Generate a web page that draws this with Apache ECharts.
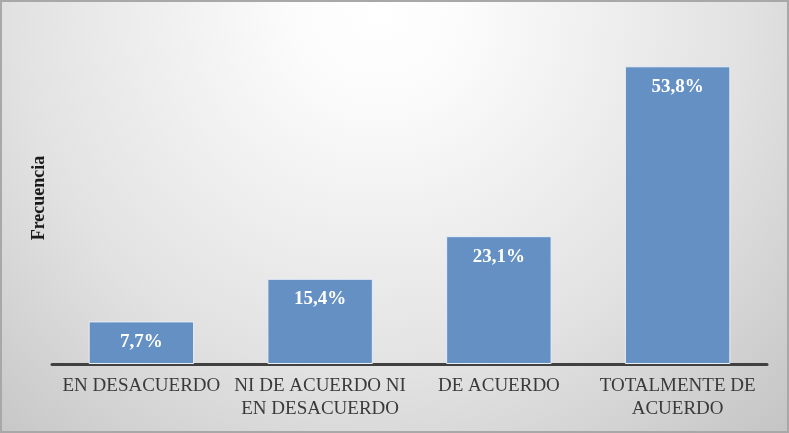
<!DOCTYPE html>
<html>
<head>
<meta charset="utf-8">
<script src="https://cdn.jsdelivr.net/npm/echarts@6/dist/echarts.min.js"></script>
<style>
  html, body { margin: 0; padding: 0; }
  #chart { width: 789px; height: 433px; }
</style>
</head>
<body>
<div id="chart"></div>
<script>
var categories = ['EN DESACUERDO', 'NI DE ACUERDO NI\nEN DESACUERDO', 'DE ACUERDO', 'TOTALMENTE DE\nACUERDO'];
var values = [7.7, 15.4, 23.1, 53.8];

var chart = echarts.init(document.getElementById('chart'));
var serif = '"Liberation Serif", "DejaVu Serif", serif';

var option = {
    backgroundColor: {
        type: 'radial',
        x: 0.48, y: 0.02, r: 1.4,
        colorStops: [
            { offset: 0, color: '#ffffff' },
            { offset: 0.15, color: '#fbfbfb' },
            { offset: 0.6, color: '#e2e2e2' },
            { offset: 1, color: '#c2c2c2' }
        ]
    },
    graphic: [{
        type: 'rect',
        shape: { x: 1, y: 1, width: 787, height: 431 },
        style: { fill: 'none', stroke: '#a8a8a8', lineWidth: 2 }
    }],
    grid: {
        left: 52,
        right: 22,
        top: 32,
        bottom: 69
    },
    xAxis: {
        type: 'category',
        data: categories,
        axisTick: { show: false },
        axisLine: { lineStyle: { color: '#404040', width: 3 } },
        axisLabel: {
            color: '#3a3a3a',
            fontFamily: serif,
            fontSize: 19,
            lineHeight: 23,
            margin: 11,
            interval: 0
        }
    },
    yAxis: {
        type: 'value',
        min: 0,
        max: 60,
        name: 'Frecuencia',
        nameLocation: 'middle',
        nameGap: 4,
        nameRotate: 90,
        nameTextStyle: {
            color: '#1a1a1a',
            fontFamily: serif,
            fontSize: 18,
            fontWeight: 'bold'
        },
        axisLine: { show: false },
        axisTick: { show: false },
        axisLabel: { show: false },
        splitLine: { show: false }
    },
    series: [{
        type: 'bar',
        data: values,
        barWidth: '59%',
        itemStyle: {
            color: '#6590c4',
            borderColor: '#e8eef6',
            borderWidth: 1
        },
        label: {
            show: true,
            position: 'insideTop',
            distance: 11,
            color: '#ffffff',
            fontFamily: serif,
            fontSize: 19,
            fontWeight: 'bold',
            formatter: function(p) {
                return p.value.toFixed(1).replace('.', ',') + '%';
            }
        }
    }]
};

chart.setOption(option);
</script>
</body>
</html>
